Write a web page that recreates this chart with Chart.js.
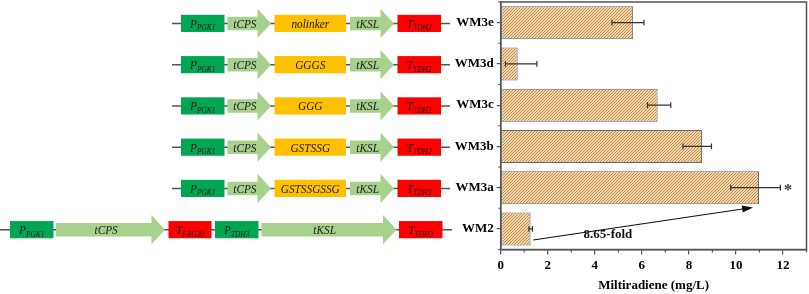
<!DOCTYPE html>
<html>
<head>
<meta charset="utf-8">
<script src="https://cdn.jsdelivr.net/npm/chart.js@4.4.1/dist/chart.umd.min.js"></script>
<style>
  html, body { margin: 0; padding: 0; background: #fff; }
  #chart { display: block; }
</style>
</head>
<body>
<canvas id="chart" width="809" height="294"></canvas>
<script>
// --- Data ---
const strains = ['WM3e', 'WM3d', 'WM3c', 'WM3b', 'WM3a', 'WM2'];
const titers = [5.63, 0.72, 6.67, 8.56, 10.98, 1.27];   // mg/L
const errLow = [4.73, 0.20, 6.24, 7.75, 9.78, 1.20];
const errHigh = [6.09, 1.54, 7.23, 8.96, 11.89, 1.35];
const linkers = ['nolinker', 'GGGS', 'GGG', 'GSTSSG', 'GSTSSGSSG']; // WM3e..WM3a
const xTickLabels = [0, 2, 4, 6, 8, 10, 12];
const foldText = '8.65-fold';
const starText = '*';

// --- Style ---
const SERIF = "'Liberation Serif', 'Times New Roman', serif";
const AXIS = '#555';
const GREEN = '#00a651';
const LGREEN = '#a9d18e';
const YELLOW = '#ffc000';
const RED = '#ff0000';

Chart.defaults.font.family = SERIF;
Chart.defaults.color = '#000';

const canvas = document.getElementById('chart');
const ctx = canvas.getContext('2d');

// diagonal hatch for the bars
function makeHatch() {
    const s = 3;
    const c = document.createElement('canvas');
    c.width = s; c.height = s;
    const g = c.getContext('2d');
    g.fillStyle = '#f8d7a4';
    g.fillRect(0, 0, s, s);
    g.strokeStyle = '#a88050';
    g.lineWidth = 0.9;
    g.beginPath();
    g.moveTo(0, s); g.lineTo(s, 0);
    g.moveTo(-1, 1); g.lineTo(1, -1);
    g.moveTo(s - 1, s + 1); g.lineTo(s + 1, s - 1);
    g.stroke();
    return ctx.createPattern(c, 'repeat');
}

// --- Gene construct diagrams (left side) ---
// the figure text is slightly squeezed horizontally
const SQUEEZE = 0.87;

function drawLabel(c, main, sub, cx, cy) {
    const mainFont = 'italic 13px ' + SERIF;
    const subFont = 'italic 8.5px ' + SERIF;
    c.font = mainFont;
    const w1 = c.measureText(main).width;
    c.font = subFont;
    const w2 = sub ? c.measureText(sub).width : 0;
    c.save();
    c.translate(cx, cy);
    c.scale(SQUEEZE, 1);
    const x = -(w1 + w2) / 2;
    c.fillStyle = '#1a1a1a';
    c.textAlign = 'left';
    c.textBaseline = 'alphabetic';
    c.font = mainFont;
    c.fillText(main, x, 4.5);
    if (sub) {
        c.font = subFont;
        c.fillText(sub, x + w1, 7);
    }
    c.restore();
}

function drawBox(c, x0, x1, cy, color, main, sub) {
    c.fillStyle = color;
    c.fillRect(x0, cy - 8.6, x1 - x0, 17.2);
    drawLabel(c, main, sub, (x0 + x1) / 2, cy);
}

function drawGeneArrow(c, x0, x1, cy, main) {
    const bh = 6.7, hh = 14.6, hl = 13.5;
    c.fillStyle = LGREEN;
    c.beginPath();
    c.moveTo(x0, cy - bh);
    c.lineTo(x1 - hl, cy - bh);
    c.lineTo(x1 - hl, cy - hh);
    c.lineTo(x1, cy);
    c.lineTo(x1 - hl, cy + hh);
    c.lineTo(x1 - hl, cy + bh);
    c.lineTo(x0, cy + bh);
    c.closePath();
    c.fill();
    drawLabel(c, main, '', (x0 + x1 - hl / 2) / 2 - 1, cy);
}

function drawBackbone(c, x0, x1, cy) {
    c.strokeStyle = '#555';
    c.lineWidth = 1.5;
    c.beginPath();
    c.moveTo(x0, cy);
    c.lineTo(x1, cy);
    c.stroke();
}

const constructPlugin = {
    id: 'constructs',
    afterDraw(chart) {
        const c = chart.ctx;
        const ys = chart.scales.y;
        c.save();
        linkers.forEach((linker, i) => {
            const cy = ys.getPixelForValue(i) + 0.8;
            drawBackbone(c, 172, 450, cy);
            drawBox(c, 181, 224.5, cy, GREEN, 'P', 'PGK1');
            drawGeneArrow(c, 227.5, 271, cy, 'tCPS');
            drawBox(c, 274.5, 346, cy, YELLOW, linker, '');
            drawGeneArrow(c, 350, 394, cy, 'tKSL');
            drawBox(c, 397.5, 441, cy, RED, 'T', 'TDH2');
        });
        const cy = ys.getPixelForValue(5) + 0.8;
        drawBackbone(c, 0, 452, cy);
        drawBox(c, 10, 53.5, cy, GREEN, 'P', 'PGK1');
        drawGeneArrow(c, 56, 165, cy, 'tCPS');
        drawBox(c, 168.5, 211.5, cy, RED, 'T', 'ERG20');
        drawBox(c, 215, 258.5, cy, GREEN, 'P', 'TDH3');
        drawGeneArrow(c, 261.5, 396.5, cy, 'tKSL');
        drawBox(c, 399, 442.5, cy, RED, 'T', 'TDH2');
        c.restore();
    }
};

// --- Error bars, fold arrow, asterisk, frame, minor ticks ---
const extrasPlugin = {
    id: 'extras',
    afterDatasetsDraw(chart) {
        const c = chart.ctx;
        const xs = chart.scales.x;
        const ys = chart.scales.y;
        c.save();
        // error bars
        c.strokeStyle = '#333';
        c.lineWidth = 1.2;
        strains.forEach((s, i) => {
            const y = ys.getPixelForValue(i);
            const a = xs.getPixelForValue(errLow[i]);
            const b = xs.getPixelForValue(errHigh[i]);
            c.beginPath();
            c.moveTo(a, y); c.lineTo(b, y);
            c.moveTo(a, y - 2.8); c.lineTo(a, y + 2.8);
            c.moveTo(b, y - 2.8); c.lineTo(b, y + 2.8);
            c.stroke();
        });
        // fold-change arrow WM2 -> WM3a
        const x0 = xs.getPixelForValue(1.38), y0 = ys.getPixelForValue(5.27);
        const x1 = xs.getPixelForValue(10.73), y1 = ys.getPixelForValue(4.48);
        const ang = Math.atan2(y1 - y0, x1 - x0);
        c.strokeStyle = '#111';
        c.fillStyle = '#111';
        c.lineWidth = 1.2;
        c.beginPath();
        c.moveTo(x0, y0);
        c.lineTo(x1 - 9 * Math.cos(ang), y1 - 9 * Math.sin(ang));
        c.stroke();
        c.beginPath();
        c.moveTo(x1, y1);
        c.lineTo(x1 - 11 * Math.cos(ang) + 3.5 * Math.sin(ang), y1 - 11 * Math.sin(ang) - 3.5 * Math.cos(ang));
        c.lineTo(x1 - 11 * Math.cos(ang) - 3.5 * Math.sin(ang), y1 - 11 * Math.sin(ang) + 3.5 * Math.cos(ang));
        c.closePath();
        c.fill();
        c.font = 'bold 13px ' + SERIF;
        c.textAlign = 'center';
        c.textBaseline = 'middle';
        c.fillText(foldText, xs.getPixelForValue(4.56), ys.getPixelForValue(5.15));
        // significance star
        c.fillStyle = '#444';
        c.font = 'bold 17px ' + SERIF;
        c.fillText(starText, xs.getPixelForValue(12.21), ys.getPixelForValue(4) + 3);
        c.restore();
    },
    afterDraw(chart) {
        const c = chart.ctx;
        const a = chart.chartArea;
        const xs = chart.scales.x;
        const ys = chart.scales.y;
        c.save();
        c.strokeStyle = AXIS;
        c.lineWidth = 1.5;
        c.strokeRect(a.left, a.top, a.right - a.left, a.bottom - a.top);
        c.lineWidth = 1.2;
        c.beginPath();
        for (let v = 1; v <= 13; v += 2) {
            const px = xs.getPixelForValue(v);
            c.moveTo(px, a.bottom); c.lineTo(px, a.bottom + 3);
        }
        for (let i = 0; i <= strains.length; i++) {
            const py = ys.getPixelForValue(i - 0.5);
            c.moveTo(a.left - 2.5, py); c.lineTo(a.left, py);
        }
        c.stroke();
        c.restore();
    }
};

const chart = new Chart(ctx, {
    type: 'bar',
    data: {
        labels: strains,
        datasets: [{
            data: titers,
            backgroundColor: makeHatch(),
            borderColor: '#6a6a6a',
            borderWidth: 1,
            borderSkipped: false,
            barPercentage: 0.8,
            categoryPercentage: 1
        }]
    },
    options: {
        indexAxis: 'y',
        responsive: false,
        animation: false,
        layout: { padding: { top: 2, right: 2.5, bottom: 0, left: 0 } },
        plugins: {
            legend: { display: false },
            tooltip: { enabled: false }
        },
        scales: {
            y: {
                type: 'category',
                offset: true,
                afterFit(scale) {
                    scale.width = 500.7;
                    scale.paddingTop = 0;
                    scale.paddingBottom = 0;
                },
                grid: {
                    offset: false,
                    drawOnChartArea: false,
                    drawTicks: true,
                    tickLength: 4,
                    color: AXIS,
                    lineWidth: 1.2
                },
                border: { color: AXIS, width: 1.5 },
                ticks: {
                    font: { size: 13, weight: 'bold' },
                    color: '#000',
                    padding: 3
                }
            },
            x: {
                type: 'linear',
                min: 0,
                max: 13,
                afterFit(scale) {
                    scale.height = 44.5;
                    scale.paddingLeft = 0;
                    scale.paddingRight = 0;
                },
                grid: {
                    drawOnChartArea: false,
                    drawTicks: true,
                    tickLength: 5,
                    color: (c) => (c.tick && xTickLabels.includes(c.tick.value)) ? AXIS : 'rgba(0,0,0,0)',
                    lineWidth: 1.2
                },
                border: { color: AXIS, width: 1.5 },
                ticks: {
                    stepSize: 1,
                    autoSkip: false,
                    maxRotation: 0,
                    padding: 3,
                    font: { size: 13, weight: 'bold' },
                    color: '#000',
                    callback: (v) => xTickLabels.includes(v) ? String(v) : ''
                },
                title: {
                    display: true,
                    text: 'Miltiradiene (mg/L)',
                    font: { size: 13, weight: 'bold' },
                    color: '#000',
                    padding: { top: 0, bottom: 1 }
                }
            }
        }
    },
    plugins: [constructPlugin, extrasPlugin]
});
</script>
</body>
</html>
